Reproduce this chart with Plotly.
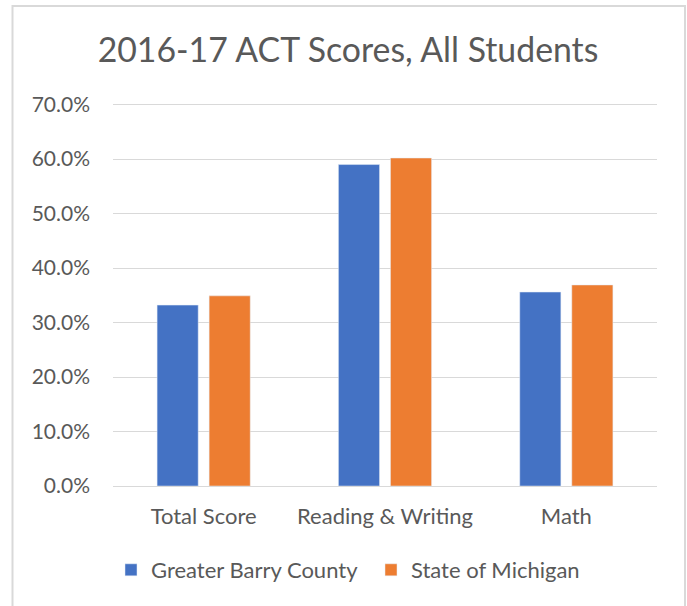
import plotly.graph_objects as go

categories = ["Total Score", "Reading & Writing", "Math"]
barry = [0.332, 0.590, 0.356]
michigan = [0.349, 0.602, 0.369]
series_names = ["Greater Barry County", "State of Michigan"]
tick_vals = [0, 0.1, 0.2, 0.3, 0.4, 0.5, 0.6, 0.7]

BLUE = "#4472C4"
ORANGE = "#ED7D31"
TXT = "#595959"
FONT = "Lato, 'Open Sans', sans-serif"

fig = go.Figure()
fig.add_trace(go.Bar(name=series_names[0], x=categories, y=barry, marker_color=BLUE))
fig.add_trace(go.Bar(name=series_names[1], x=categories, y=michigan, marker_color=ORANGE))

W, H = 687, 606
L, R, T, B = 113, 30, 103, 120
pw, ph = W - L - R, H - T - B

def px2x(px):
    return (px - L) / pw

def px2y(py):
    return (H - B - py) / ph

fig.update_layout(
    width=W, height=H,
    margin=dict(l=L, r=R, t=T, b=B),
    paper_bgcolor="white", plot_bgcolor="white",
    barmode="group", bargap=0.426, bargroupgap=0.21,
    font=dict(family=FONT, color=TXT, size=21),
    title=dict(text="2016-17 ACT Scores, All Students", x=348 / W, xanchor="center",
               y=1 - 50 / H, yanchor="middle",
               font=dict(size=33.8, color=TXT, family=FONT)),
    xaxis=dict(showgrid=False, showline=True, linecolor="#D9D9D9", linewidth=1,
               ticks="", tickfont=dict(size=22, color=TXT), ticklabelstandoff=11),
    yaxis=dict(range=[0, 0.703], tickvals=tick_vals, tickformat=".1%",
               showgrid=True, gridcolor="#D9D9D9", gridwidth=1, zeroline=False,
               showline=False, ticks="", tickfont=dict(size=21, color=TXT),
               ticklabelstandoff=22),
    legend=dict(orientation="h", x=px2x(111), xanchor="left", y=px2y(570), yanchor="middle",
                font=dict(size=22, color=TXT), traceorder="normal",
                itemwidth=30, entrywidth=215, entrywidthmode="pixels",
                bgcolor="rgba(0,0,0,0)"),
    showlegend=True,
    shapes=[dict(type="rect", xref="paper", yref="paper",
                 x0=px2x(12.5), x1=px2x(685), y0=px2y(640), y1=px2y(6),
                 line=dict(color="#D9D9D9", width=2), fillcolor="rgba(0,0,0,0)", layer="below")],
)

fig.write_html("out.html", config={"displayModeBar": False},
               post_script="document.body.style.margin='0';")
